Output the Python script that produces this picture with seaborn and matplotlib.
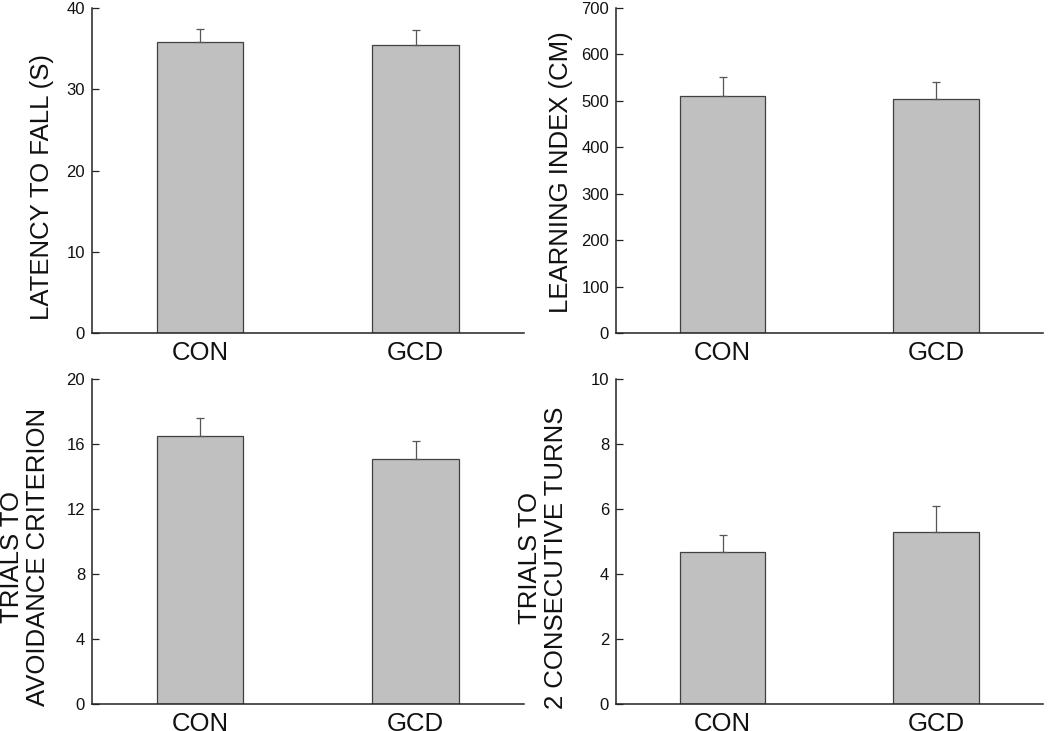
import matplotlib
matplotlib.use("Agg")
import matplotlib.pyplot as plt
import seaborn as sns
import pandas as pd

sns.set_theme(style="white")
plt.rcParams['font.family'] = ['Liberation Sans', 'DejaVu Sans']

groups = ["CON", "GCD"]

latency = [35.85, 35.4]
latency_err = [1.6, 1.9]

learning = [510, 504]
learning_err = [41, 36]

avoid = [16.5, 15.1]
avoid_err = [1.1, 1.1]

turns = [4.69, 5.29]
turns_err = [0.51, 0.8]

panels = [
    dict(vals=latency, errs=latency_err, ylim=40, ticks=[0, 10, 20, 30, 40],
         label="LATENCY TO FALL (S)", pos=[0.0876, 0.5445, 0.411, 0.4445],
         lab_xy=(42.5, 187)),
    dict(vals=learning, errs=learning_err, ylim=700, ticks=list(range(0, 701, 100)),
         label="LEARNING INDEX (CM)", pos=[0.5867, 0.5445, 0.4063, 0.4445],
         lab_xy=(561, 172)),
    dict(vals=avoid, errs=avoid_err, ylim=20, ticks=[0, 4, 8, 12, 16, 20],
         label="TRIALS TO\nAVOIDANCE CRITERION", pos=[0.0876, 0.0373, 0.411, 0.4438],
         lab_xy=(25, 557)),
    dict(vals=turns, errs=turns_err, ylim=10, ticks=[0, 2, 4, 6, 8, 10],
         label="TRIALS TO\n2 CONSECUTIVE TURNS", pos=[0.5867, 0.0373, 0.4063, 0.4438],
         lab_xy=(543, 558)),
]

W, H = 1050, 731
fig = plt.figure(figsize=(W / 100, H / 100), dpi=100)

for p in panels:
    ax = fig.add_axes(p["pos"])
    df = pd.DataFrame({"group": groups, "value": p["vals"]})
    sns.barplot(data=df, x="group", y="value", ax=ax, color="#c0c0c0",
                saturation=1, width=0.4, edgecolor="#404040", linewidth=0.9,
                errorbar=None)
    ax.errorbar(range(len(groups)), p["vals"], yerr=[[0] * len(groups), p["errs"]],
                fmt="none", ecolor="#555555", elinewidth=0.9, capsize=3,
                capthick=0.9, zorder=1)
    ax.set_xlim(-0.5, 1.5)
    ax.set_ylim(0, p["ylim"])
    ax.set_yticks(p["ticks"])
    ax.set_xlabel("")
    ax.set_ylabel("")
    for s in ["top", "right"]:
        ax.spines[s].set_visible(False)
    for s in ["left", "bottom"]:
        ax.spines[s].set_color("#222222")
        ax.spines[s].set_linewidth(1.1)
    ax.tick_params(axis="y", direction="in", length=5, width=0.9, color="#222222",
                   labelsize=12, pad=5, left=True, labelcolor="#111111")
    ax.tick_params(axis="x", length=0, labelsize=18.5, pad=6, labelcolor="#111111")
    x, y = p["lab_xy"]
    fig.text(x / W, 1 - y / H, p["label"], rotation=90, ha="center", va="center",
             fontsize=18.5, color="#111111", multialignment="center", linespacing=1.1)

fig.savefig("out.png", dpi=100)
